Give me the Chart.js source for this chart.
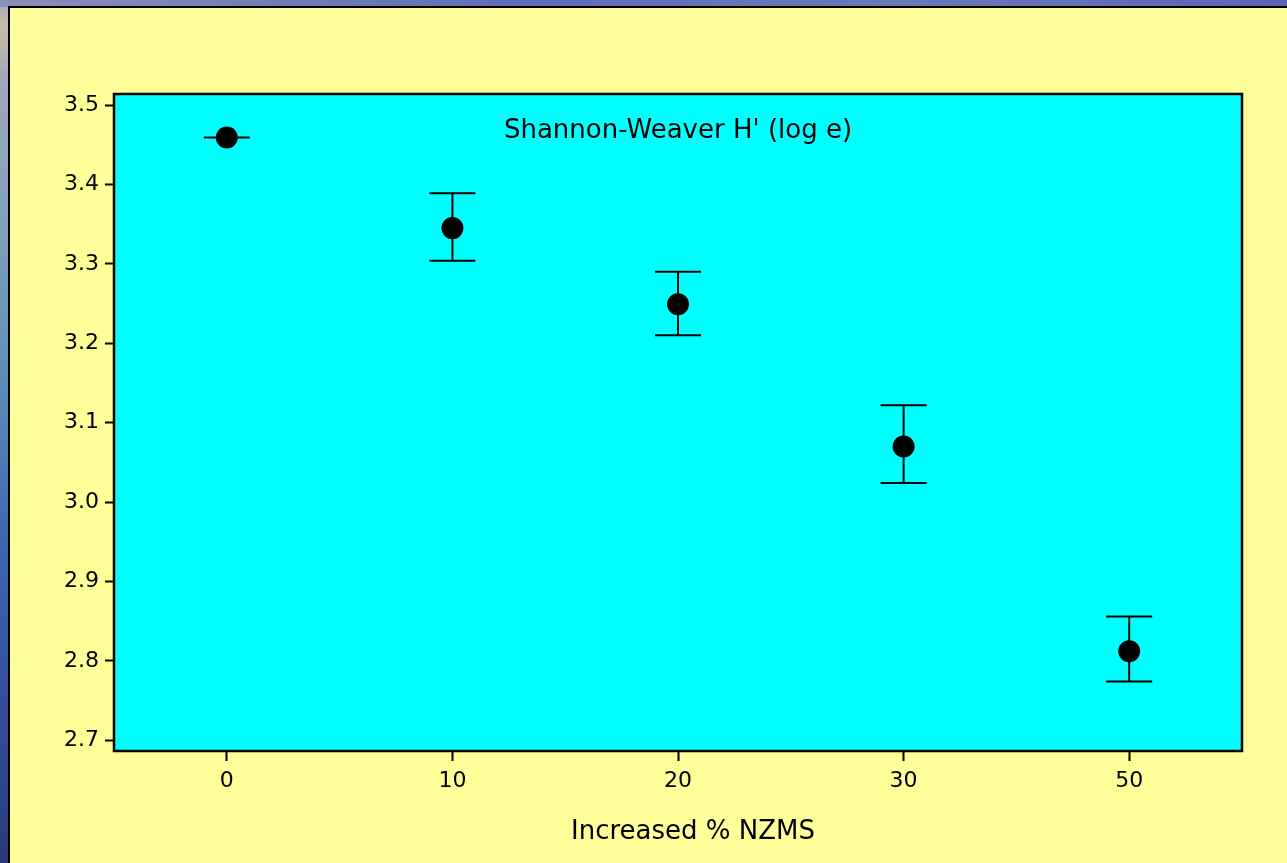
<!DOCTYPE html>
<html>
<head>
<meta charset="utf-8">
<script src="https://cdn.jsdelivr.net/npm/chart.js@4/dist/chart.umd.min.js"></script>
<style>
  html, body { margin: 0; padding: 0; }
  body {
    width: 1287px; height: 863px; overflow: hidden; position: relative;
    background: linear-gradient(to bottom, #a3a6c4 0%, #c9bca6 3%, #a2a8b8 9%, #7d9fb8 28%, #5b8bb8 45%, #3f68ac 62%, #34509a 80%, #2a3a78 100%);
  }
  #topband {
    position: absolute; left: 0; top: 0; width: 1287px; height: 7px;
    background: linear-gradient(to right, #8a8fb8 0%, #5f6fb6 40%, #6b78b8 70%, #5c66b0 100%);
  }
  #panel {
    position: absolute; left: 8px; top: 6px; width: 1290px; height: 870px;
    background: #ffff99; border: 2px solid #000; box-sizing: border-box;
  }
  canvas { position: absolute; left: 0; top: 0; }
</style>
</head>
<body>
<div id="topband"></div>
<div id="panel"></div>
<canvas id="chart" width="1287" height="863"></canvas>
<script>
// % NZMS added, Shannon-Weaver diversity means and error bar ends
const groups = ['0', '10', '20', '30', '50'];
const hMean  = [3.459, 3.345, 3.249, 3.070, 2.812];
const hUpper = [3.459, 3.389, 3.290, 3.122, 2.856];
const hLower = [3.459, 3.304, 3.210, 3.024, 2.774];
const yTicks = [2.7, 2.8, 2.9, 3.0, 3.1, 3.2, 3.3, 3.4, 3.5];

const FONT = "'DejaVu Sans', Verdana, sans-serif";

// cyan plot background and black frame
const plotFrame = {
  id: 'plotFrame',
  beforeDatasetsDraw(chart) {
    const {ctx, chartArea: a} = chart;
    ctx.save();
    ctx.fillStyle = '#00ffff';
    ctx.fillRect(a.left, a.top, a.right - a.left, a.bottom - a.top);
    ctx.restore();
  },
  afterDraw(chart) {
    const {ctx, chartArea: a} = chart;
    ctx.save();
    ctx.strokeStyle = '#000';
    ctx.lineWidth = 2.5;
    ctx.strokeRect(a.left, a.top, a.right - a.left, a.bottom - a.top);
    ctx.restore();
  }
};

// vertical error bars with caps, drawn under the points
const errorBars = {
  id: 'errorBars',
  beforeDatasetsDraw(chart) {
    const {ctx, scales: {x, y}} = chart;
    const cap = 23;
    ctx.save();
    ctx.strokeStyle = '#000';
    ctx.lineWidth = 2;
    groups.forEach((g, i) => {
      const px = x.getPixelForValue(i);
      const top = y.getPixelForValue(hUpper[i]);
      const bot = y.getPixelForValue(hLower[i]);
      ctx.beginPath();
      ctx.moveTo(px, top); ctx.lineTo(px, bot);
      ctx.moveTo(px - cap, top); ctx.lineTo(px + cap, top);
      ctx.moveTo(px - cap, bot); ctx.lineTo(px + cap, bot);
      ctx.stroke();
    });
    ctx.restore();
  }
};

// label inside the plot and the x axis caption
const captions = {
  id: 'captions',
  afterDraw(chart) {
    const {ctx, chartArea: a} = chart;
    const cx = (a.left + a.right) / 2;
    ctx.save();
    ctx.fillStyle = '#000';
    ctx.font = '26px ' + FONT;
    ctx.textAlign = 'center';
    ctx.textBaseline = 'middle';
    ctx.fillText("Shannon-Weaver H' (log e)", cx, a.top + 37);
    ctx.fillText('Increased % NZMS', cx + 15, a.bottom + 81);
    ctx.restore();
  }
};

new Chart(document.getElementById('chart'), {
  type: 'line',
  data: {
    labels: groups,
    datasets: [{
      data: hMean,
      showLine: false,
      pointRadius: 11,
      pointHoverRadius: 11,
      pointBackgroundColor: '#000',
      pointBorderColor: '#000',
      pointBorderWidth: 0
    }]
  },
  options: {
    responsive: false,
    animation: false,
    events: [],
    layout: { padding: { top: 94, right: 45, left: 0, bottom: 0 } },
    plugins: { legend: { display: false }, tooltip: { enabled: false } },
    scales: {
      x: {
        type: 'category',
        offset: true,
        afterFit(scale) { scale.height = 112; },
        border: { display: false },
        grid: { drawOnChartArea: false, drawTicks: true, tickLength: 10, tickWidth: 2, tickColor: '#000', offset: false },
        ticks: { color: '#000', padding: 7, font: { family: FONT, size: 22 } }
      },
      y: {
        min: 2.6865,
        max: 3.5139,
        afterFit(scale) { scale.width = 114; },
        afterBuildTicks(scale) { scale.ticks = yTicks.map(v => ({ value: v })); },
        border: { display: false },
        grid: { drawOnChartArea: false, drawTicks: true, tickLength: 9, tickWidth: 2, tickColor: '#000' },
        ticks: { color: '#000', padding: 6, font: { family: FONT, size: 22 }, callback: v => v.toFixed(1) }
      }
    }
  },
  plugins: [plotFrame, errorBars, captions]
});
</script>
</body>
</html>
